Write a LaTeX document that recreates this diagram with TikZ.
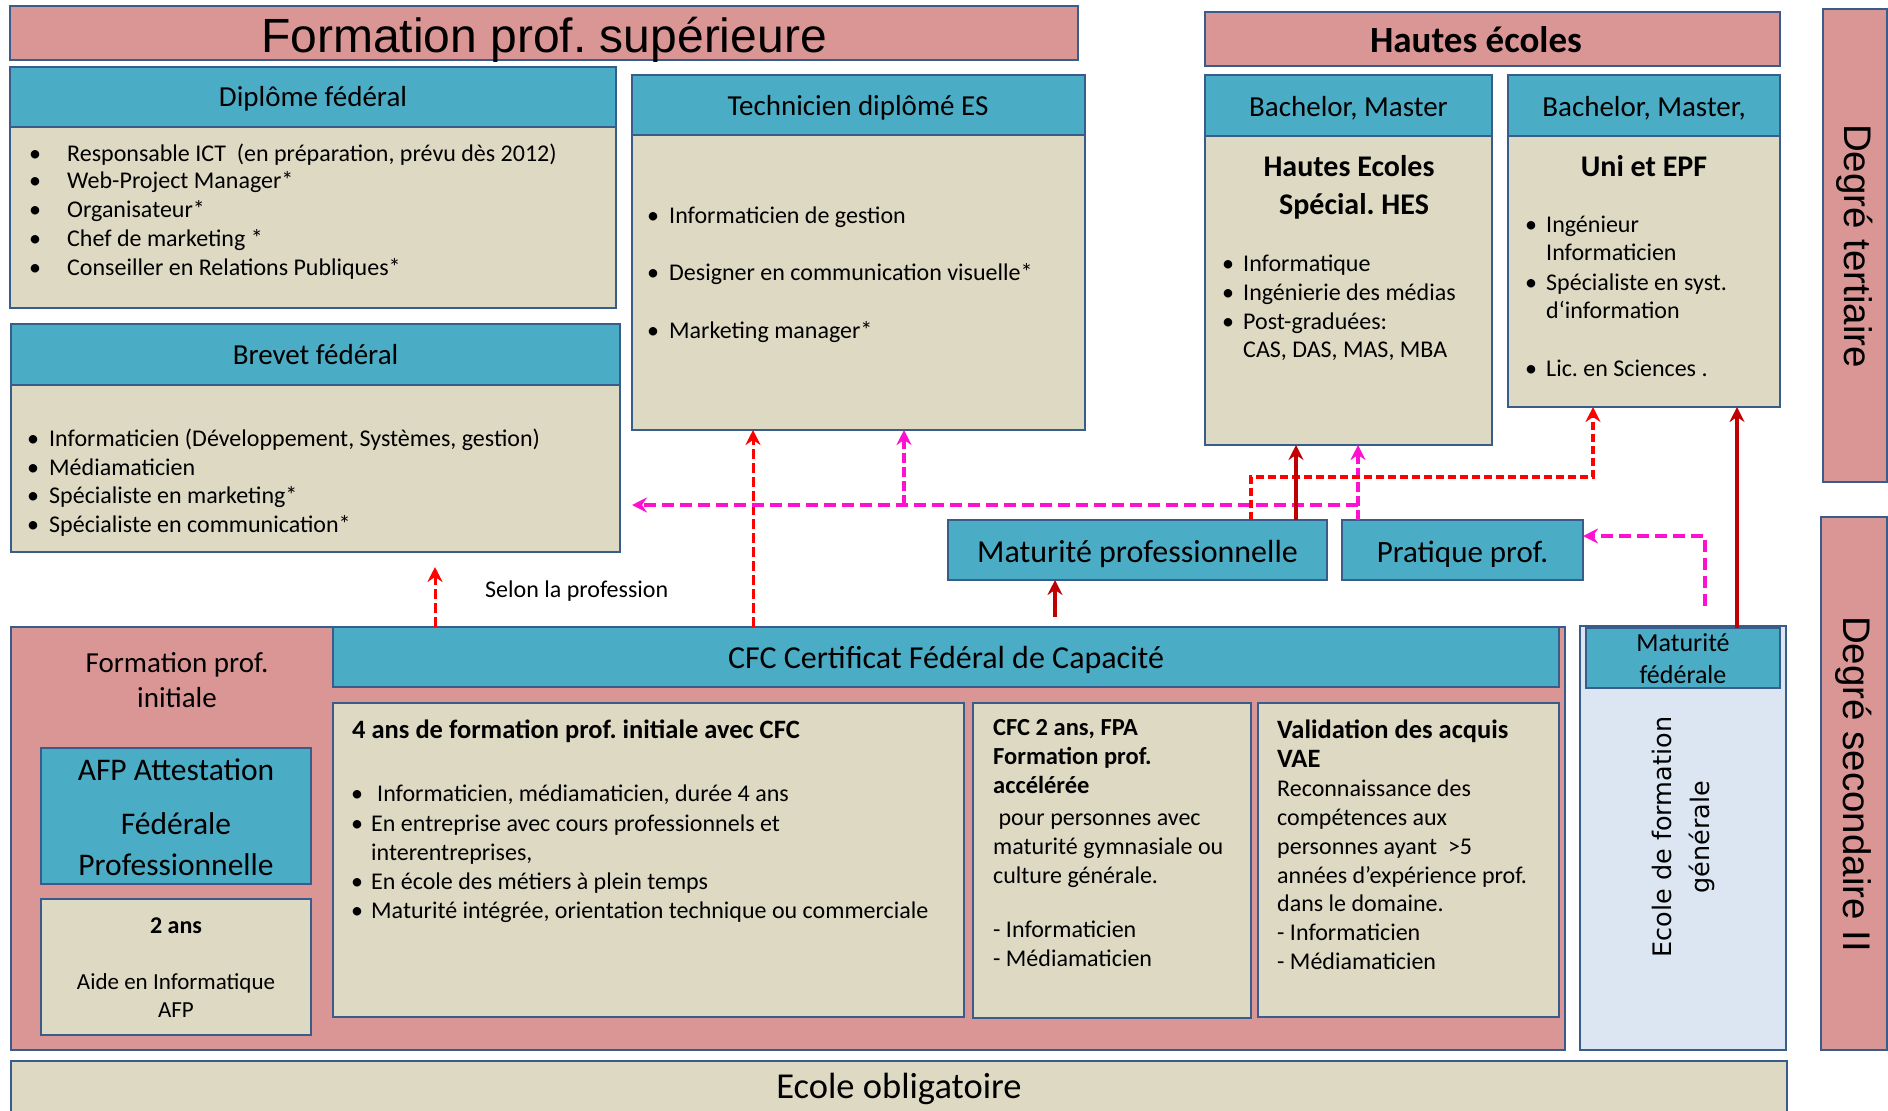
\documentclass[tikz,border=0pt]{standalone}
\usepackage{fontspec}
\setmainfont{Carlito}
\newfontfamily\arialf{Liberation Sans}
\newfontfamily\verdf{DejaVu Sans}
\usetikzlibrary{arrows.meta}
\definecolor{pinkF}{HTML}{D99694}
\definecolor{blueF}{HTML}{4BACC6}
\definecolor{tanF}{HTML}{DDD9C3}
\definecolor{lbF}{HTML}{DCE6F2}
\definecolor{bordF}{HTML}{385D8A}
\definecolor{redA}{HTML}{FF0000}
\definecolor{dredA}{HTML}{C00000}
\definecolor{pinkA}{HTML}{FF10D0}
\newcommand\fsz[2]{\fontsize{#1pt}{#2pt}\selectfont}
\newcommand\rbox[6]{\node[#2, anchor=north west, minimum width={(#5-#3)*1pt}, minimum height={(#6-#4)*1pt}] (#1) at (#3,#4) {};}
\tikzset{
  basebox/.style={draw=bordF, line width=1.5pt, inner sep=0pt, outer sep=0pt},
  pinkbox/.style={basebox, fill=pinkF},
  bluebox/.style={basebox, fill=blueF},
  tanbox/.style={basebox, fill=tanF},
  lbbox/.style={basebox, fill=lbF},
  txt/.style={inner sep=0pt, anchor=base west, font=\fsz{24}{29}},
  ctxt/.style={inner sep=0pt, anchor=base, font=\fsz{24}{29}},
  bul/.style={inner sep=0pt, anchor=base, font=\fsz{24}{29}},
  head/.style={inner sep=0pt, anchor=base, font=\fsz{29}{35}},
  tipA/.style={-{Stealth[length=15pt,width=15pt,inset=5pt]}},
  reddash/.style={tipA, draw=redA, line width=3pt, dash pattern=on 10pt off 4pt},
  redthick/.style={tipA, draw=redA, line width=4pt, dash pattern=on 8pt off 4pt},
  pinkdash/.style={tipA, draw=pinkA, line width=3.2pt, dash pattern=on 10pt off 4pt},
  pinkthick/.style={tipA, draw=pinkA, line width=4pt, dash pattern=on 12pt off 6pt},
  darkred/.style={tipA, draw=dredA, line width=3.5pt}
}
\begin{document}
\frenchspacing
\begin{tikzpicture}[x=1pt, y=-1pt]
\useasboundingbox (0,0) rectangle (1888,1111);
\fill[white] (0,0) rectangle (1888,1111);
% ---------- boxes ----------
\rbox{title}{pinkbox}{10}{6}{1078}{60}
\rbox{he}{pinkbox}{1205}{12}{1780}{66}
\rbox{df}{tanbox}{10}{67}{616}{308}
\rbox{dfh}{bluebox}{10}{67}{616}{127}
\rbox{tech}{tanbox}{632}{75}{1085}{430}
\rbox{techh}{bluebox}{632}{75}{1085}{135}
\rbox{hes}{tanbox}{1205}{75}{1492}{445}
\rbox{hesh}{bluebox}{1205}{75}{1492}{136}
\rbox{uni}{tanbox}{1508}{75}{1780}{407}
\rbox{unih}{bluebox}{1508}{75}{1780}{136}
\rbox{dt}{pinkbox}{1823}{9}{1887}{482}
\rbox{bf}{tanbox}{11}{324}{620}{552}
\rbox{bfh}{bluebox}{11}{324}{620}{385}
\rbox{mp}{bluebox}{948}{520}{1327}{580}
\rbox{pp}{bluebox}{1342}{520}{1583}{580}
\rbox{fpi}{pinkbox}{11}{627}{1565}{1050}
\rbox{cfc}{bluebox}{333}{627}{1559}{687}
\rbox{qa}{tanbox}{333}{703}{964}{1017}
\rbox{afp}{bluebox}{41}{748}{311}{884}
\rbox{deux}{tanbox}{41}{899}{311}{1035}
\rbox{fpa}{tanbox}{973}{703}{1251}{1018}
\rbox{vae}{tanbox}{1258}{703}{1559}{1017}
\rbox{efg}{lbbox}{1580}{626}{1786}{1050}
\rbox{mf}{bluebox}{1586}{628}{1780}{688}
\rbox{ds}{pinkbox}{1821}{517}{1887}{1050}
\rbox{eo}{tanbox}{11}{1061}{1787}{1125}
% ---------- titles ----------
\node[inner sep=0pt, anchor=base, font=\arialf\fsz{48}{50}] (titlet) at (544,52) {Formation prof. supérieure};
\node[inner sep=0pt, anchor=base, font=\fsz{37}{40}\bfseries] (het) at (1476,52) {Hautes écoles};
\node[head] (dft) at (313,106) {Diplôme fédéral};
\node[head] (techt) at (858,115) {Technicien diplômé ES};
\node[head] (hest) at (1348.5,116) {Bachelor, Master};
\node[head] (unit) at (1644,116) {Bachelor, Master,};
\node[head] (bft) at (315.5,364) {Brevet fédéral};
\node[inner sep=0pt, anchor=base, font=\fsz{30}{36}\bfseries] (hes1) at (1349,176) {Hautes Ecoles};
\node[inner sep=0pt, anchor=base, font=\fsz{30}{36}\bfseries] (hes2) at (1354,214) {Spécial. HES};
\node[inner sep=0pt, anchor=base, font=\fsz{30}{36}\bfseries] (uni1) at (1644,176) {Uni et EPF};
\node[inner sep=0pt, anchor=base, font=\fsz{32}{36}] (mpt) at (1137.5,562) {Maturité professionnelle};
\node[inner sep=0pt, anchor=base, font=\fsz{31}{36}] (ppt) at (1462.5,562) {Pratique prof.};
\node[inner sep=0pt, anchor=base, font=\fsz{32}{36}] (cfct) at (946,668) {CFC Certificat Fédéral de Capacité};
\node[txt] (selon) at (485,597) {Selon la profession};
% Diplome list
\foreach \n/\yy/\t in {1/161/{Responsable ICT\ \ (en préparation, prévu dès 2012)},2/188/{Web-Project Manager*},3/217/{Organisateur*},4/246/{Chef de marketing *},5/275/{Conseiller en Relations Publiques*}}{
  \node[bul] (dfb\n) at (35,\yy) {•};
  \node[txt] (dfl\n) at (67,\yy) {\t};
}
% Technicien list
\foreach \n/\yy/\t in {1/223/{Informaticien de gestion},2/280/{Designer en communication visuelle*},3/338/{Marketing manager*}}{
  \node[bul] (teb\n) at (653,\yy) {•};
  \node[txt] (tel\n) at (669,\yy) {\t};
}
% HES list
\foreach \n/\yy/\t in {1/271/{Informatique},2/300/{Ingénierie des médias},3/329/{Post-graduées:}}{
  \node[bul] (hsb\n) at (1228,\yy) {•};
  \node[txt] (hsl\n) at (1243,\yy) {\t};
}
\node[txt] (hsl4) at (1243,357) {CAS, DAS, MAS, MBA};
% Uni list
\node[bul] (unb1) at (1531,232) {•};
\node[txt] (unl1) at (1546,232) {Ingénieur};
\node[txt] (unl2) at (1546,260) {Informaticien};
\node[bul] (unb3) at (1531,290) {•};
\node[txt] (unl3) at (1546,290) {Spécialiste en syst.};
\node[txt] (unl4) at (1546,318) {d‘information};
\node[bul] (unb5) at (1531,376) {•};
\node[txt] (unl5) at (1546,376) {Lic. en Sciences .};
% Brevet list
\foreach \n/\yy/\t in {1/446/{Informaticien (Développement, Systèmes, gestion)},2/475/{Médiamaticien},3/503/{Spécialiste en marketing*},4/532/{Spécialiste en communication*}}{
  \node[bul] (bfb\n) at (33,\yy) {•};
  \node[txt] (bfl\n) at (49,\yy) {\t};
}
% Formation prof initiale
\node[inner sep=0pt, anchor=base, font=\fsz{29}{35}] (fpi1) at (177,672) {Formation prof.};
\node[inner sep=0pt, anchor=base, font=\fsz{29}{35}] (fpi2) at (177,707) {initiale};
\node[inner sep=0pt, anchor=base, font=\fsz{31.5}{36}] (afp1) at (176,780) {AFP Attestation};
\node[inner sep=0pt, anchor=base, font=\fsz{31.5}{36}] (afp2) at (176,834) {Fédérale};
\node[inner sep=0pt, anchor=base, font=\fsz{31.5}{36}] (afp3) at (176,875) {Professionnelle};
\node[inner sep=0pt, anchor=base, font=\fsz{24}{29}\bfseries] (deux1) at (176,933) {2 ans};
\node[inner sep=0pt, anchor=base, font=\fsz{23}{28}] (deux2) at (176,989) {Aide en Informatique};
\node[inner sep=0pt, anchor=base, font=\fsz{23}{28}] (deux3) at (176,1017) {AFP};
% 4 ans
\node[txt, font=\fsz{26.5}{30}\bfseries] (qat) at (352,738) {4 ans de formation prof. initiale avec CFC};
\node[bul] (qab1) at (357,801) {•};
\node[txt] (qal1) at (377,801) {Informaticien, médiamaticien, durée 4 ans};
\node[bul] (qab2) at (357,831) {•};
\node[txt] (qal2) at (371,831) {En entreprise avec cours professionnels et};
\node[txt] (qal3) at (371,860) {interentreprises,};
\node[bul] (qab4) at (357,889) {•};
\node[txt] (qal4) at (371,889) {En école des métiers à plein temps};
\node[bul] (qab5) at (357,918) {•};
\node[txt] (qal5) at (371,918) {Maturité intégrée, orientation technique ou commerciale};
% CFC 2 ans FPA
\foreach \n/\yy/\t in {1/735/{CFC 2 ans, FPA},2/764/{Formation prof.},3/793/{accélérée}}{
  \node[txt, font=\fsz{24.5}{29}\bfseries] (fpb\n) at (993,\yy) {\t};
}
\foreach \n/\yy/\t in {4/825/{\ pour personnes avec},5/854/{maturité gymnasiale ou},6/883/{culture générale.},7/937/{- Informaticien},8/966/{- Médiamaticien}}{
  \node[txt] (fpl\n) at (993,\yy) {\t};
}
% VAE
\foreach \n/\yy/\t in {1/738/{Validation des acquis},2/767/{VAE}}{
  \node[txt, font=\fsz{26.5}{30}\bfseries] (vab\n) at (1277,\yy) {\t};
}
\foreach \n/\yy/\t in {3/796/{Reconnaissance des},4/825/{compétences aux},5/854/{personnes ayant\ \ >5},6/883/{années d{\char39}expérience prof.},7/911/{dans le domaine.},8/940/{- Informaticien},9/969/{- Médiamaticien}}{
  \node[txt] (val\n) at (1277,\yy) {\t};
}
% Maturite federale / Ecole de formation generale
\node[inner sep=0pt, anchor=base, font=\fsz{26}{30}] (mf1) at (1683,651) {Maturité};
\node[inner sep=0pt, anchor=base, font=\fsz{26}{30}] (mf2) at (1683,683) {fédérale};
\node[inner sep=0pt, rotate=90, align=center, font=\verdf\fsz{25.5}{38}] (efgt) at (1683,837) {Ecole de formation\\générale};
% Degre bars
\node[inner sep=0pt, rotate=-90, font=\arialf\fsz{38.5}{40}] (dtt) at (1855,246) {Degré tertiaire};
\node[inner sep=0pt, rotate=-90, font=\arialf\fsz{38.5}{40}] (dst) at (1854,784) {Degré secondaire II};
% Ecole obligatoire
\node[inner sep=0pt, anchor=base, font=\fsz{36.5}{40}] (eot) at (899,1098) {Ecole obligatoire};
% ---------- connectors ----------
\coordinate (s1) at (435,567);
\coordinate (xa) at (753,0);
\coordinate (j1) at (904,505);
\coordinate (j2) at (1358,505);
\coordinate (t4) at (632,505);
\coordinate (r1) at (1251,477);
\coordinate (r2) at (1593,477);
\coordinate (xb) at (1296,0);
\coordinate (m8) at (1055,617);
\coordinate (xc) at (1737,0);
\coordinate (p1) at (1705,606);
\coordinate (p2) at (1705,536);
\draw[reddash] (cfc.north -| s1) -- (s1);
\draw[reddash] (cfc.north -| xa) -- (tech.south -| xa);
\draw[pinkdash] (j1) -- (tech.south -| j1);
\draw[pinkthick] (j2) -- (t4);
\draw[pinkdash] (pp.north -| j2) -- (hes.south -| j2);
\draw[redthick] (mp.north -| r1) -- (r1) -- (r2) -- (uni.south -| r2);
\draw[darkred] (mp.north -| xb) -- (hes.south -| xb);
\draw[darkred] (m8) -- (mp.south -| m8);
\draw[darkred] (mf.north -| xc) -- (uni.south -| xc);
\draw[pinkthick] (p1) -- (p2) -- (pp.east |- p2);
\end{tikzpicture}
\end{document}
